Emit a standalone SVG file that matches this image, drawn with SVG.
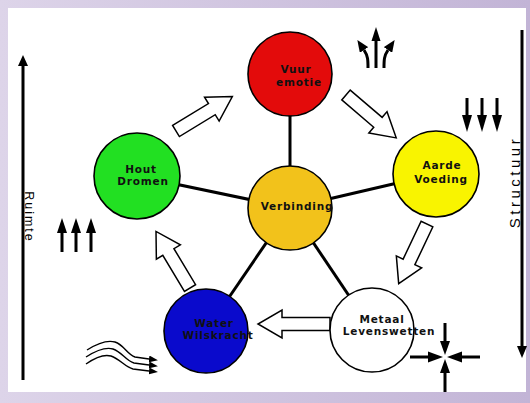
<svg xmlns="http://www.w3.org/2000/svg" width="530" height="403" viewBox="0 0 530 403">
<defs>
<linearGradient id="bg" x1="0" y1="0" x2="1" y2="0">
<stop offset="0" stop-color="#ddd4e9"/>
<stop offset="1" stop-color="#c2b4d6"/>
</linearGradient>
<path id="blk" d="M0,-6.5 H42 V-14 L66,0 L42,14 V6.5 H0 Z"/>
<path id="blk2" d="M0,-6.5 H48 V-14 L72,0 L48,14 V6.5 H0 Z"/>
<marker id="hd" viewBox="0 0 12 10" markerWidth="12" markerHeight="10" refX="0" refY="5" orient="auto" markerUnits="userSpaceOnUse">
<path d="M0,0 L12,5 L0,10 Z" fill="#000"/>
</marker>
<marker id="hw" viewBox="0 0 9 7" markerWidth="9" markerHeight="7" refX="0" refY="3.5" orient="auto" markerUnits="userSpaceOnUse">
<path d="M0,0 L9,3.5 L0,7 Z" fill="#000"/>
</marker>
</defs>
<style>
.node{stroke:#000;stroke-width:1.6}
.lbl{font-family:"DejaVu Sans",Verdana,sans-serif;font-weight:bold;font-size:10.5px;letter-spacing:0.8px;fill:#111;text-anchor:middle}
.spoke{stroke:#000;stroke-width:3}
.blk{fill:#fff;stroke:#000;stroke-width:1.5;stroke-linejoin:miter}
.shaft{stroke:#000;stroke-width:3;fill:none}
.wave{stroke:#000;stroke-width:1.4;fill:none}
.axis{font-family:"Liberation Sans",Arial,sans-serif;fill:#000;text-anchor:middle}
</style>
<rect x="0" y="0" width="530" height="403" fill="url(#bg)"/>
<rect x="8" y="8" width="518" height="384" fill="#fff"/>

<g id="connectors">
<line class="spoke" x1="290" y1="208" x2="290" y2="74"/>
<line class="spoke" x1="290" y1="208" x2="436" y2="174"/>
<line class="spoke" x1="290" y1="208" x2="372" y2="330"/>
<line class="spoke" x1="290" y1="208" x2="206" y2="331"/>
<line class="spoke" x1="290" y1="208" x2="137" y2="176"/>
<use href="#blk" class="blk" transform="translate(176,131) rotate(-31.4)"/>
<use href="#blk" class="blk" transform="translate(346,95) rotate(40.5)"/>
<use href="#blk" class="blk" transform="translate(427,224) rotate(115.4)"/>
<use href="#blk2" class="blk" transform="translate(330,324) rotate(180)"/>
<use href="#blk" class="blk" transform="translate(190,288) rotate(-121)"/>
</g>

<g id="node-vuur">
<circle class="node" cx="290" cy="74" r="42" fill="#e30b0b"/>
<text class="lbl" x="296" y="73">Vuur</text>
<text class="lbl" x="299" y="86">emotie</text>
</g>
<g id="node-aarde">
<circle class="node" cx="436" cy="174" r="43" fill="#f9f400"/>
<text class="lbl" x="442" y="169">Aarde</text>
<text class="lbl" x="441" y="183">Voeding</text>
</g>
<g id="node-metaal">
<circle class="node" cx="372" cy="330" r="42" fill="#fff"/>
<text class="lbl" x="382" y="323">Metaal</text>
<text class="lbl" x="389" y="335">Levenswetten</text>
</g>
<g id="node-water">
<circle class="node" cx="206" cy="331" r="42" fill="#0a0acc"/>
<text class="lbl" x="214" y="327">Water</text>
<text class="lbl" x="218" y="339">Wilskracht</text>
</g>
<g id="node-hout">
<circle class="node" cx="137" cy="176" r="43" fill="#22e022"/>
<text class="lbl" x="141" y="173">Hout</text>
<text class="lbl" x="143" y="185">Dromen</text>
</g>
<g id="node-verbinding">
<circle class="node" cx="290" cy="208" r="42" fill="#f2c21b"/>
<text class="lbl" x="297" y="210">Verbinding</text>
</g>

<g id="axis-ruimte">
<line class="shaft" x1="23" y1="64" x2="23" y2="380"/>
<polygon points="23,55 18,66 28,66" fill="#000"/>
<text class="axis" font-size="12.5" letter-spacing="2" transform="translate(25,217) rotate(90)">Ruimte</text>
</g>
<g id="axis-structuur">
<line class="shaft" x1="522" y1="30" x2="522" y2="348"/>
<polygon points="522,358 517,346 527,346" fill="#000"/>
<text class="axis" font-size="15" letter-spacing="3.5" transform="translate(520,182) rotate(-90)">Structuur</text>
</g>

<g id="symbol-rising">
<line class="shaft" x1="376" y1="68" x2="376" y2="40"/>
<polygon points="376,27 371.5,41 380.5,41" fill="#000"/>
<path class="shaft" d="M368,68 C368,60 368,56 364,50" marker-end="url(#hd)"/>
<path class="shaft" d="M384,68 C384,60 384,56 388,50" marker-end="url(#hd)"/>
</g>
<g id="symbol-down">
<line class="shaft" x1="467" y1="98" x2="467" y2="117"/>
<polygon points="462,115 472,115 467,132" fill="#000"/>
<line class="shaft" x1="482" y1="98" x2="482" y2="117"/>
<polygon points="477,115 487,115 482,132" fill="#000"/>
<line class="shaft" x1="497" y1="98" x2="497" y2="117"/>
<polygon points="492,115 502,115 497,132" fill="#000"/>
</g>
<g id="symbol-up">
<line class="shaft" x1="62" y1="252" x2="62" y2="231"/>
<polygon points="62,218 57,233 67,233" fill="#000"/>
<line class="shaft" x1="76" y1="252" x2="76" y2="231"/>
<polygon points="76,218 71,233 81,233" fill="#000"/>
<line class="shaft" x1="91" y1="252" x2="91" y2="231"/>
<polygon points="91,218 86,233 96,233" fill="#000"/>
</g>
<g id="symbol-wave">
<path class="wave" d="M87,350 C98,343 108,340 115,342 C124,345 127,354 135,357 L149,359" marker-end="url(#hw)"/>
<path class="wave" d="M86,357 C97,350 106,347 113,349 C122,352 126,361 134,363 L149,365" marker-end="url(#hw)"/>
<path class="wave" d="M86,364 C96,357 104,354 111,356 C120,359 125,367 133,369 L149,371" marker-end="url(#hw)"/>
</g>
<g id="symbol-compress">
<line class="shaft" x1="445" y1="323" x2="445" y2="343"/>
<polygon points="440,341 450,341 445,355" fill="#000"/>
<line class="shaft" x1="445" y1="392" x2="445" y2="371"/>
<polygon points="440,373 450,373 445,359" fill="#000"/>
<line class="shaft" x1="410" y1="357" x2="430" y2="357"/>
<polygon points="428,351.5 428,362.5 443,357" fill="#000"/>
<line class="shaft" x1="480" y1="357" x2="460" y2="357"/>
<polygon points="462,351.5 462,362.5 447,357" fill="#000"/>
</g>
</svg>
